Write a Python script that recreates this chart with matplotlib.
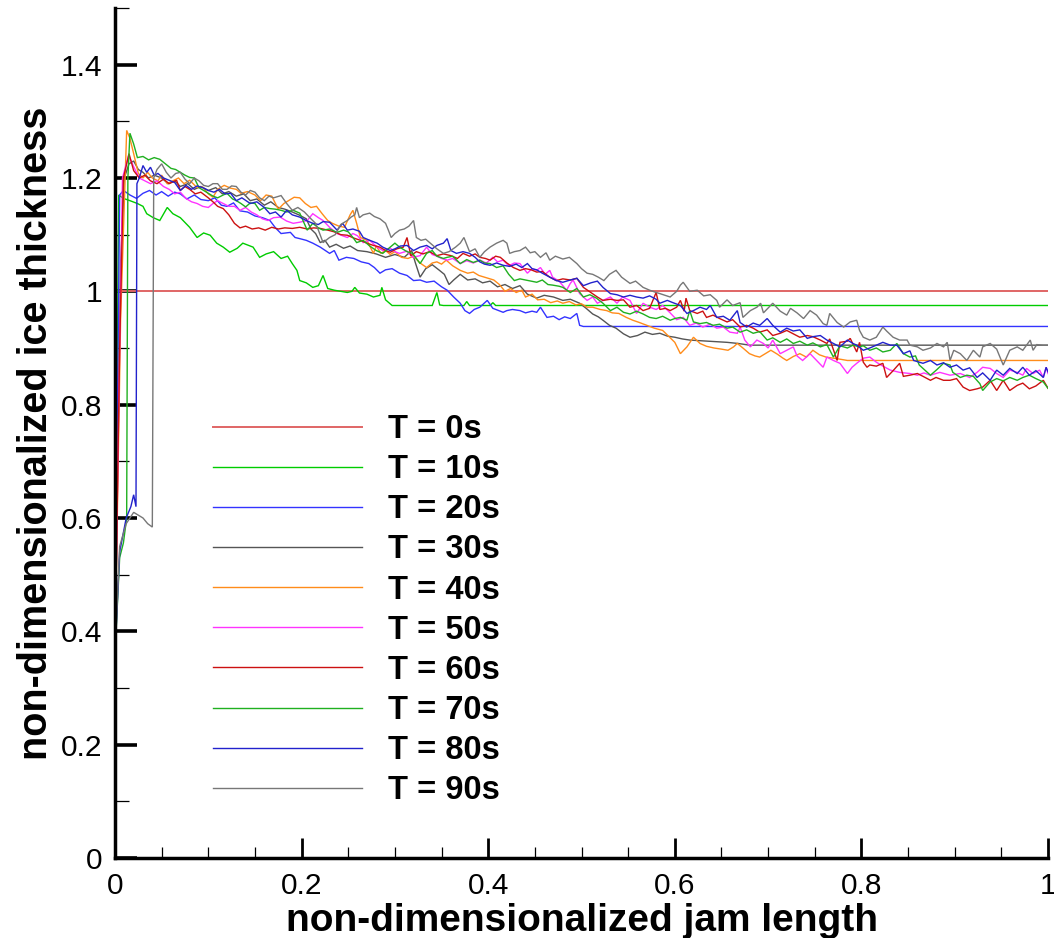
import matplotlib
matplotlib.use("Agg")
import matplotlib.pyplot as plt
from matplotlib.ticker import MultipleLocator, FuncFormatter

plt.rcParams['font.family'] = ['Liberation Sans', 'DejaVu Sans']

labels = ["T = 0s", "T = 10s", "T = 20s", "T = 30s", "T = 40s",
          "T = 50s", "T = 60s", "T = 70s", "T = 80s", "T = 90s"]
colors = ["#e06565", "#00cc00", "#3333ff", "#555555", "#ff8c1a",
          "#ff33ff", "#cc1111", "#20b020", "#2222cc", "#777777"]

T0 = [(0, 1.0), (1.0, 1.0)]

T10 = [(0, 0.36), (0.004, 1.17), (0.009, 1.164), (0.016, 1.16), (0.024, 1.155), (0.03, 1.15),
       (0.034, 1.137), (0.041, 1.13), (0.048, 1.125), (0.056, 1.148), (0.062, 1.137), (0.07, 1.13),
       (0.08, 1.113), (0.088, 1.095), (0.095, 1.103), (0.102, 1.099), (0.109, 1.085), (0.116, 1.078),
       (0.123, 1.069), (0.131, 1.076), (0.137, 1.085), (0.148, 1.078), (0.155, 1.06), (0.162, 1.066),
       (0.17, 1.07), (0.178, 1.058), (0.185, 1.062), (0.19, 1.049), (0.195, 1.037), (0.198, 1.019),
       (0.205, 1.015), (0.212, 1.007), (0.218, 1.01), (0.223, 1.028), (0.228, 1.005), (0.235, 1.002),
       (0.242, 1.0), (0.249, 0.998), (0.254, 1.0), (0.257, 1.007), (0.262, 0.997), (0.27, 0.995),
       (0.277, 0.99), (0.284, 0.993), (0.286, 1.007), (0.29, 0.985), (0.297, 0.975), (0.34, 0.975),
       (0.345, 0.998), (0.348, 0.976), (0.352, 0.975), (0.374, 0.975), (0.377, 0.982), (0.38, 0.975),
       (0.402, 0.975), (0.405, 0.98), (0.408, 0.975), (1.0, 0.975)]

T20 = [(0, 0.36), (0.005, 1.17), (0.009, 1.178), (0.016, 1.17), (0.023, 1.164), (0.03, 1.173),
       (0.037, 1.178), (0.044, 1.17), (0.05, 1.176), (0.057, 1.168), (0.064, 1.175), (0.07, 1.172),
       (0.077, 1.163), (0.085, 1.17), (0.092, 1.162), (0.1, 1.16), (0.107, 1.165), (0.114, 1.152),
       (0.12, 1.15), (0.127, 1.156), (0.134, 1.142), (0.142, 1.14), (0.15, 1.133), (0.158, 1.13),
       (0.166, 1.125), (0.172, 1.112), (0.178, 1.102), (0.188, 1.104), (0.193, 1.095), (0.198, 1.093),
       (0.205, 1.09), (0.212, 1.085), (0.22, 1.078), (0.23, 1.067), (0.235, 1.072), (0.24, 1.055),
       (0.248, 1.06), (0.256, 1.058), (0.264, 1.052), (0.272, 1.049), (0.278, 1.042), (0.284, 1.032),
       (0.29, 1.038), (0.297, 1.04), (0.305, 1.032), (0.313, 1.028), (0.32, 1.019), (0.327, 1.02),
       (0.334, 1.016), (0.342, 1.018), (0.35, 1.008), (0.356, 1.002), (0.363, 0.99), (0.37, 0.979),
       (0.375, 0.966), (0.38, 0.961), (0.385, 0.968), (0.391, 0.972), (0.399, 0.984), (0.405, 0.97),
       (0.416, 0.963), (0.42, 0.966), (0.426, 0.968), (0.434, 0.966), (0.44, 0.962), (0.447, 0.965),
       (0.452, 0.963), (0.456, 0.972), (0.463, 0.954), (0.47, 0.956), (0.476, 0.95), (0.482, 0.955),
       (0.488, 0.952), (0.495, 0.961), (0.498, 0.94), (0.502, 0.938), (1.0, 0.938)]

T30 = [(0, 0.36), (0.006, 1.05), (0.01, 1.2), (0.015, 1.225), (0.02, 1.23), (0.025, 1.215),
       (0.03, 1.21), (0.036, 1.2), (0.042, 1.205), (0.05, 1.2), (0.057, 1.19), (0.064, 1.195),
       (0.07, 1.185), (0.078, 1.19), (0.085, 1.18), (0.092, 1.185), (0.1, 1.178), (0.108, 1.183),
       (0.115, 1.172), (0.122, 1.176), (0.13, 1.168), (0.138, 1.172), (0.145, 1.16), (0.152, 1.163),
       (0.16, 1.152), (0.167, 1.158), (0.175, 1.148), (0.182, 1.145), (0.19, 1.14), (0.197, 1.135),
       (0.205, 1.128), (0.21, 1.11), (0.215, 1.102), (0.22, 1.086), (0.225, 1.09), (0.23, 1.078),
       (0.237, 1.083), (0.245, 1.076), (0.252, 1.08), (0.26, 1.072), (0.27, 1.07), (0.28, 1.066),
       (0.29, 1.06), (0.3, 1.065), (0.31, 1.06), (0.318, 1.072), (0.322, 1.05), (0.327, 1.025),
       (0.333, 1.04), (0.34, 1.047), (0.347, 1.038), (0.353, 1.03), (0.358, 1.012), (0.363, 1.02),
       (0.37, 1.03), (0.378, 1.02), (0.386, 1.022), (0.394, 1.015), (0.402, 1.018), (0.41, 1.008),
       (0.418, 1.012), (0.426, 1.005), (0.434, 1.01), (0.442, 0.995), (0.452, 0.988), (0.46, 0.993),
       (0.47, 0.99), (0.48, 0.984), (0.488, 0.986), (0.498, 0.979), (0.505, 0.97), (0.512, 0.96),
       (0.518, 0.955), (0.523, 0.949), (0.53, 0.94), (0.537, 0.935), (0.545, 0.925), (0.552, 0.919),
       (0.56, 0.922), (0.568, 0.928), (0.576, 0.924), (0.584, 0.926), (0.592, 0.921), (0.6, 0.919),
       (0.608, 0.916), (0.616, 0.914), (0.626, 0.913), (0.636, 0.912), (0.646, 0.911), (0.656, 0.91),
       (0.668, 0.908), (0.68, 0.905), (1.0, 0.905)]

T40 = [(0, 0.36), (0.006, 0.95), (0.0125, 1.284), (0.016, 1.27), (0.02, 1.243), (0.025, 1.208),
       (0.03, 1.2), (0.035, 1.21), (0.04, 1.2), (0.046, 1.195), (0.05, 1.205), (0.056, 1.19),
       (0.062, 1.195), (0.068, 1.2), (0.074, 1.19), (0.08, 1.196), (0.088, 1.183), (0.094, 1.184),
       (0.1, 1.172), (0.105, 1.166), (0.11, 1.18), (0.117, 1.187), (0.124, 1.182), (0.13, 1.18),
       (0.135, 1.173), (0.142, 1.176), (0.15, 1.17), (0.156, 1.16), (0.162, 1.17), (0.168, 1.168),
       (0.175, 1.145), (0.181, 1.155), (0.186, 1.16), (0.192, 1.166), (0.198, 1.165), (0.204, 1.155),
       (0.21, 1.148), (0.216, 1.15), (0.222, 1.137), (0.228, 1.125), (0.233, 1.12), (0.24, 1.115),
       (0.246, 1.113), (0.252, 1.135), (0.255, 1.143), (0.259, 1.12), (0.263, 1.095), (0.27, 1.09),
       (0.277, 1.067), (0.28, 1.08), (0.285, 1.067), (0.29, 1.072), (0.295, 1.065), (0.3, 1.07),
       (0.307, 1.06), (0.314, 1.058), (0.32, 1.062), (0.327, 1.05), (0.334, 1.042), (0.34, 1.05),
       (0.345, 1.052), (0.35, 1.048), (0.355, 1.055), (0.362, 1.045), (0.37, 1.037), (0.378, 1.032),
       (0.384, 1.034), (0.39, 1.028), (0.396, 1.025), (0.4, 1.023), (0.406, 1.02), (0.412, 1.012),
       (0.418, 1.0), (0.424, 1.005), (0.43, 0.998), (0.436, 1.002), (0.44, 0.99), (0.447, 0.995),
       (0.453, 0.985), (0.46, 0.986), (0.467, 0.98), (0.474, 0.983), (0.48, 0.979), (0.487, 0.982),
       (0.494, 0.976), (0.5, 0.978), (0.506, 0.972), (0.512, 0.972), (0.52, 0.968), (0.527, 0.966),
       (0.533, 0.962), (0.54, 0.961), (0.548, 0.954), (0.555, 0.949), (0.562, 0.945), (0.57, 0.94),
       (0.578, 0.935), (0.587, 0.931), (0.595, 0.918), (0.6, 0.91), (0.606, 0.89), (0.613, 0.902),
       (0.62, 0.919), (0.627, 0.908), (0.634, 0.903), (0.642, 0.9), (0.65, 0.898), (0.657, 0.896),
       (0.663, 0.902), (0.667, 0.908), (0.673, 0.9), (0.68, 0.89), (0.686, 0.886), (0.691, 0.884),
       (0.697, 0.89), (0.703, 0.896), (0.71, 0.889), (0.716, 0.882), (0.72, 0.878), (0.727, 0.885),
       (0.734, 0.89), (0.741, 0.884), (0.748, 0.896), (0.755, 0.888), (0.762, 0.884), (0.77, 0.882),
       (0.778, 0.88), (0.785, 0.878), (1.0, 0.878)]

T50 = [(0, 0.36), (0.004, 0.8), (0.008, 1.2), (0.0146, 1.24), (0.02, 1.22), (0.026, 1.2),
       (0.032, 1.195), (0.038, 1.19), (0.045, 1.195), (0.052, 1.185), (0.058, 1.18), (0.064, 1.172),
       (0.07, 1.175), (0.076, 1.164), (0.082, 1.158), (0.088, 1.155), (0.094, 1.15), (0.1, 1.148),
       (0.105, 1.155), (0.11, 1.16), (0.116, 1.155), (0.122, 1.15), (0.128, 1.15), (0.134, 1.143),
       (0.14, 1.148), (0.146, 1.14), (0.152, 1.135), (0.158, 1.128), (0.164, 1.125), (0.17, 1.13),
       (0.177, 1.131), (0.184, 1.124), (0.191, 1.12), (0.198, 1.122), (0.206, 1.125), (0.212, 1.137),
       (0.218, 1.13), (0.223, 1.125), (0.23, 1.113), (0.238, 1.102), (0.244, 1.098), (0.249, 1.095),
       (0.255, 1.102), (0.26, 1.098), (0.266, 1.086), (0.273, 1.09), (0.281, 1.078), (0.287, 1.072),
       (0.295, 1.076), (0.3, 1.07), (0.305, 1.067), (0.313, 1.071), (0.319, 1.06), (0.327, 1.063),
       (0.334, 1.078), (0.34, 1.065), (0.345, 1.062), (0.35, 1.058), (0.356, 1.055), (0.362, 1.058),
       (0.37, 1.049), (0.377, 1.054), (0.384, 1.05), (0.391, 1.055), (0.398, 1.05), (0.405, 1.06),
       (0.41, 1.052), (0.416, 1.055), (0.422, 1.045), (0.428, 1.05), (0.434, 1.049), (0.442, 1.032),
       (0.447, 1.04), (0.452, 1.037), (0.456, 1.042), (0.461, 1.03), (0.466, 1.037), (0.469, 1.025),
       (0.476, 1.018), (0.484, 1.002), (0.488, 1.014), (0.491, 1.02), (0.498, 0.996), (0.506, 0.984),
       (0.512, 0.99), (0.517, 0.979), (0.523, 0.984), (0.531, 0.99), (0.538, 0.979), (0.544, 0.99),
       (0.552, 0.984), (0.559, 0.961), (0.566, 0.979), (0.573, 0.972), (0.58, 0.968), (0.587, 0.975),
       (0.595, 0.962), (0.602, 0.95), (0.609, 0.954), (0.616, 0.94), (0.623, 0.944), (0.63, 0.937),
       (0.638, 0.942), (0.645, 0.935), (0.652, 0.937), (0.659, 0.928), (0.667, 0.926), (0.67, 0.937),
       (0.675, 0.914), (0.681, 0.902), (0.688, 0.914), (0.695, 0.908), (0.7, 0.9), (0.705, 0.914),
       (0.713, 0.89), (0.72, 0.896), (0.727, 0.902), (0.731, 0.886), (0.737, 0.878), (0.745, 0.89),
       (0.752, 0.878), (0.759, 0.866), (0.763, 0.884), (0.77, 0.878), (0.777, 0.873), (0.785, 0.855),
       (0.79, 0.866), (0.795, 0.873), (0.802, 0.882), (0.809, 0.884), (0.816, 0.875), (0.823, 0.868),
       (0.831, 0.861), (0.841, 0.857), (0.852, 0.855), (0.86, 0.852), (0.867, 0.856), (0.874, 0.852),
       (0.884, 0.857), (0.895, 0.852), (0.906, 0.855), (0.916, 0.848), (0.924, 0.857), (0.93, 0.866),
       (0.938, 0.864), (0.945, 0.855), (0.952, 0.848), (0.959, 0.861), (0.967, 0.857), (0.973, 0.852),
       (0.977, 0.864), (0.984, 0.855), (0.991, 0.861), (0.995, 0.848), (0.998, 0.866), (1.0, 0.855)]

T60 = [(0, 0.36), (0.005, 0.9), (0.009, 1.2), (0.015, 1.243), (0.02, 1.213), (0.026, 1.2),
       (0.032, 1.205), (0.038, 1.195), (0.045, 1.19), (0.052, 1.198), (0.058, 1.19), (0.066, 1.196),
       (0.07, 1.178), (0.075, 1.185), (0.08, 1.18), (0.086, 1.172), (0.092, 1.175), (0.1, 1.165),
       (0.105, 1.158), (0.11, 1.15), (0.116, 1.146), (0.122, 1.135), (0.128, 1.12), (0.134, 1.112),
       (0.14, 1.115), (0.147, 1.11), (0.154, 1.112), (0.161, 1.108), (0.168, 1.113), (0.175, 1.11),
       (0.182, 1.112), (0.19, 1.111), (0.198, 1.113), (0.206, 1.11), (0.213, 1.112), (0.22, 1.111),
       (0.228, 1.108), (0.235, 1.105), (0.242, 1.1), (0.249, 1.099), (0.256, 1.094), (0.263, 1.09),
       (0.27, 1.085), (0.277, 1.081), (0.284, 1.078), (0.29, 1.072), (0.295, 1.069), (0.302, 1.075),
       (0.309, 1.078), (0.313, 1.095), (0.317, 1.063), (0.323, 1.07), (0.33, 1.066), (0.337, 1.07),
       (0.345, 1.063), (0.352, 1.066), (0.36, 1.063), (0.367, 1.058), (0.373, 1.067), (0.38, 1.062),
       (0.386, 1.066), (0.391, 1.06), (0.397, 1.058), (0.402, 1.055), (0.408, 1.062), (0.413, 1.06),
       (0.42, 1.05), (0.427, 1.042), (0.434, 1.037), (0.44, 1.04), (0.446, 1.038), (0.452, 1.034),
       (0.458, 1.035), (0.466, 1.025), (0.473, 1.019), (0.48, 1.022), (0.488, 1.02), (0.495, 1.023),
       (0.502, 1.007), (0.51, 0.998), (0.517, 0.99), (0.523, 0.984), (0.531, 0.986), (0.538, 0.984),
       (0.545, 0.985), (0.552, 0.972), (0.559, 0.975), (0.566, 0.966), (0.573, 0.97), (0.58, 0.998),
       (0.584, 0.968), (0.59, 0.97), (0.595, 0.966), (0.602, 0.972), (0.606, 0.984), (0.61, 0.965),
       (0.612, 0.988), (0.616, 0.966), (0.624, 0.961), (0.63, 0.965), (0.634, 0.954), (0.641, 0.958),
       (0.648, 0.952), (0.656, 0.946), (0.662, 0.95), (0.67, 0.937), (0.677, 0.94), (0.684, 0.935),
       (0.691, 0.928), (0.699, 0.932), (0.705, 0.922), (0.713, 0.926), (0.72, 0.931), (0.727, 0.925),
       (0.734, 0.919), (0.742, 0.922), (0.748, 0.92), (0.756, 0.914), (0.763, 0.908), (0.766, 0.916),
       (0.774, 0.878), (0.777, 0.91), (0.785, 0.912), (0.788, 0.917), (0.795, 0.893), (0.798, 0.91),
       (0.802, 0.875), (0.806, 0.866), (0.809, 0.87), (0.816, 0.868), (0.823, 0.873), (0.827, 0.848),
       (0.834, 0.86), (0.841, 0.873), (0.845, 0.85), (0.852, 0.852), (0.86, 0.855), (0.866, 0.85),
       (0.874, 0.843), (0.88, 0.848), (0.888, 0.843), (0.895, 0.843), (0.902, 0.846), (0.909, 0.831),
       (0.916, 0.825), (0.924, 0.828), (0.93, 0.831), (0.938, 0.843), (0.945, 0.825), (0.952, 0.843),
       (0.959, 0.825), (0.967, 0.834), (0.973, 0.838), (0.98, 0.828), (0.987, 0.833), (0.995, 0.843),
       (1.0, 0.829)]

T70 = [(0, 0.36), (0.005, 0.53), (0.009, 0.556), (0.0125, 0.6), (0.0138, 1.2), (0.016, 1.279),
       (0.02, 1.26), (0.024, 1.236), (0.03, 1.238), (0.036, 1.232), (0.042, 1.236), (0.048, 1.233),
       (0.054, 1.225), (0.06, 1.217), (0.065, 1.215), (0.07, 1.21), (0.075, 1.205), (0.08, 1.201),
       (0.085, 1.2), (0.09, 1.183), (0.095, 1.178), (0.1, 1.173), (0.105, 1.168), (0.11, 1.165),
       (0.116, 1.17), (0.12, 1.173), (0.126, 1.163), (0.13, 1.16), (0.135, 1.155), (0.14, 1.149),
       (0.145, 1.156), (0.15, 1.155), (0.155, 1.143), (0.16, 1.148), (0.166, 1.146), (0.172, 1.145),
       (0.178, 1.143), (0.184, 1.14), (0.191, 1.143), (0.198, 1.138), (0.206, 1.108), (0.212, 1.12),
       (0.218, 1.112), (0.223, 1.108), (0.23, 1.11), (0.238, 1.104), (0.245, 1.108), (0.25, 1.105),
       (0.255, 1.095), (0.259, 1.086), (0.266, 1.09), (0.273, 1.08), (0.28, 1.072), (0.287, 1.067),
       (0.295, 1.078), (0.3, 1.085), (0.305, 1.078), (0.313, 1.07), (0.319, 1.067), (0.327, 1.049),
       (0.334, 1.067), (0.34, 1.072), (0.345, 1.062), (0.352, 1.058), (0.356, 1.06), (0.362, 1.062),
       (0.37, 1.049), (0.377, 1.056), (0.384, 1.051), (0.391, 1.055), (0.396, 1.05), (0.402, 1.049),
       (0.409, 1.042), (0.416, 1.045), (0.422, 1.03), (0.428, 1.019), (0.434, 1.022), (0.44, 1.02),
       (0.446, 1.018), (0.452, 1.016), (0.458, 1.02), (0.464, 1.012), (0.469, 1.011), (0.476, 1.009),
       (0.48, 1.007), (0.488, 0.998), (0.495, 1.005), (0.502, 0.99), (0.509, 0.994), (0.516, 0.988),
       (0.523, 0.979), (0.531, 0.966), (0.538, 0.972), (0.545, 0.963), (0.552, 0.96), (0.559, 0.965),
       (0.566, 0.96), (0.573, 0.954), (0.58, 0.952), (0.587, 0.956), (0.595, 0.949), (0.6, 0.952),
       (0.606, 0.954), (0.613, 0.949), (0.616, 0.966), (0.62, 0.946), (0.627, 0.943), (0.634, 0.945),
       (0.641, 0.94), (0.648, 0.942), (0.656, 0.935), (0.662, 0.937), (0.67, 0.928), (0.677, 0.932),
       (0.684, 0.926), (0.691, 0.929), (0.699, 0.914), (0.705, 0.918), (0.713, 0.91), (0.72, 0.916),
       (0.727, 0.908), (0.734, 0.912), (0.742, 0.905), (0.748, 0.909), (0.756, 0.902), (0.763, 0.906),
       (0.77, 0.884), (0.777, 0.904), (0.785, 0.9), (0.791, 0.905), (0.798, 0.902), (0.802, 0.904),
       (0.809, 0.896), (0.816, 0.9), (0.823, 0.893), (0.831, 0.896), (0.838, 0.908), (0.845, 0.89),
       (0.852, 0.884), (0.858, 0.886), (0.862, 0.87), (0.868, 0.861), (0.874, 0.852), (0.881, 0.862),
       (0.888, 0.873), (0.895, 0.87), (0.898, 0.857), (0.906, 0.848), (0.913, 0.852), (0.92, 0.85),
       (0.927, 0.837), (0.93, 0.825), (0.938, 0.84), (0.945, 0.846), (0.952, 0.842), (0.959, 0.848),
       (0.967, 0.843), (0.973, 0.848), (0.98, 0.852), (0.987, 0.846), (0.995, 0.84), (1.0, 0.829)]

T80 = [(0, 0.36), (0.005, 0.54), (0.012, 0.6), (0.017, 0.62), (0.02, 0.641), (0.0225, 0.62),
       (0.0235, 1.19), (0.026, 1.2), (0.03, 1.222), (0.034, 1.21), (0.038, 1.219), (0.042, 1.205),
       (0.046, 1.208), (0.052, 1.2), (0.058, 1.196), (0.064, 1.192), (0.07, 1.178), (0.076, 1.187),
       (0.082, 1.18), (0.088, 1.186), (0.094, 1.183), (0.1, 1.178), (0.106, 1.175), (0.112, 1.18),
       (0.118, 1.172), (0.124, 1.173), (0.13, 1.16), (0.136, 1.165), (0.145, 1.155), (0.152, 1.158),
       (0.16, 1.148), (0.166, 1.137), (0.172, 1.14), (0.178, 1.131), (0.184, 1.143), (0.19, 1.135),
       (0.198, 1.131), (0.205, 1.125), (0.212, 1.12), (0.218, 1.118), (0.223, 1.123), (0.23, 1.122),
       (0.238, 1.108), (0.244, 1.12), (0.249, 1.108), (0.255, 1.11), (0.262, 1.106), (0.266, 1.095),
       (0.273, 1.09), (0.281, 1.085), (0.287, 1.078), (0.295, 1.072), (0.3, 1.075), (0.306, 1.08),
       (0.313, 1.081), (0.32, 1.072), (0.327, 1.078), (0.334, 1.081), (0.34, 1.075), (0.345, 1.081),
       (0.352, 1.085), (0.356, 1.093), (0.36, 1.072), (0.366, 1.067), (0.373, 1.07), (0.38, 1.067),
       (0.386, 1.06), (0.391, 1.052), (0.396, 1.048), (0.402, 1.046), (0.409, 1.05), (0.416, 1.046),
       (0.423, 1.044), (0.43, 1.048), (0.436, 1.042), (0.442, 1.049), (0.447, 1.04), (0.452, 1.038),
       (0.458, 1.032), (0.466, 1.025), (0.473, 1.019), (0.48, 1.016), (0.488, 1.02), (0.495, 1.023),
       (0.502, 1.01), (0.51, 1.015), (0.517, 1.018), (0.523, 1.007), (0.531, 0.996), (0.538, 0.994),
       (0.545, 0.99), (0.552, 0.993), (0.559, 0.99), (0.566, 0.988), (0.573, 0.992), (0.58, 0.986),
       (0.584, 0.979), (0.592, 0.984), (0.598, 0.98), (0.606, 0.975), (0.613, 0.961), (0.62, 0.966),
       (0.627, 0.972), (0.634, 0.968), (0.638, 0.975), (0.645, 0.954), (0.652, 0.956), (0.659, 0.949),
       (0.667, 0.966), (0.67, 0.945), (0.677, 0.937), (0.684, 0.944), (0.691, 0.94), (0.699, 0.952),
       (0.705, 0.94), (0.713, 0.928), (0.72, 0.935), (0.727, 0.93), (0.734, 0.932), (0.742, 0.917),
       (0.748, 0.92), (0.756, 0.922), (0.763, 0.914), (0.77, 0.908), (0.777, 0.902), (0.785, 0.914),
       (0.791, 0.908), (0.795, 0.905), (0.802, 0.896), (0.809, 0.9), (0.816, 0.905), (0.823, 0.91),
       (0.831, 0.905), (0.838, 0.905), (0.845, 0.89), (0.852, 0.895), (0.856, 0.878), (0.866, 0.873),
       (0.874, 0.878), (0.881, 0.87), (0.888, 0.874), (0.895, 0.866), (0.902, 0.87), (0.909, 0.861),
       (0.916, 0.865), (0.924, 0.848), (0.93, 0.856), (0.938, 0.843), (0.945, 0.861), (0.952, 0.852),
       (0.959, 0.864), (0.967, 0.855), (0.973, 0.866), (0.98, 0.852), (0.987, 0.86), (0.995, 0.848),
       (0.998, 0.866), (1.0, 0.858)]

T90 = [(0, 0.36), (0.005, 0.55), (0.012, 0.59), (0.016, 0.6), (0.02, 0.61), (0.025, 0.605),
       (0.03, 0.6), (0.035, 0.59), (0.04, 0.584), (0.0415, 1.2), (0.045, 1.215), (0.05, 1.225),
       (0.055, 1.21), (0.06, 1.2), (0.065, 1.208), (0.07, 1.21), (0.075, 1.198), (0.08, 1.19),
       (0.085, 1.2), (0.09, 1.195), (0.095, 1.187), (0.1, 1.185), (0.105, 1.19), (0.11, 1.19),
       (0.115, 1.18), (0.12, 1.18), (0.125, 1.186), (0.13, 1.185), (0.135, 1.175), (0.14, 1.17),
       (0.145, 1.178), (0.15, 1.175), (0.155, 1.165), (0.16, 1.16), (0.165, 1.168), (0.17, 1.165),
       (0.178, 1.169), (0.184, 1.155), (0.19, 1.143), (0.196, 1.148), (0.203, 1.14), (0.21, 1.128),
       (0.215, 1.12), (0.218, 1.108), (0.223, 1.086), (0.23, 1.095), (0.236, 1.1), (0.242, 1.118),
       (0.249, 1.125), (0.253, 1.131), (0.257, 1.135), (0.259, 1.148), (0.262, 1.13), (0.266, 1.135),
       (0.273, 1.138), (0.278, 1.132), (0.284, 1.128), (0.29, 1.12), (0.293, 1.108), (0.296, 1.095),
       (0.3, 1.102), (0.305, 1.108), (0.31, 1.11), (0.315, 1.115), (0.32, 1.125), (0.323, 1.095),
       (0.328, 1.09), (0.333, 1.092), (0.338, 1.085), (0.345, 1.075), (0.352, 1.067), (0.358, 1.07),
       (0.365, 1.078), (0.37, 1.085), (0.374, 1.095), (0.38, 1.07), (0.386, 1.075), (0.391, 1.06),
       (0.396, 1.07), (0.402, 1.078), (0.409, 1.085), (0.416, 1.09), (0.42, 1.085), (0.423, 1.067),
       (0.428, 1.07), (0.434, 1.072), (0.44, 1.078), (0.445, 1.068), (0.45, 1.07), (0.456, 1.06),
       (0.462, 1.068), (0.466, 1.055), (0.472, 1.062), (0.48, 1.057), (0.487, 1.06), (0.495, 1.049),
       (0.5, 1.04), (0.506, 1.032), (0.512, 1.03), (0.518, 1.025), (0.524, 1.019), (0.53, 1.03),
       (0.537, 1.037), (0.543, 1.025), (0.552, 1.014), (0.558, 1.018), (0.566, 1.007), (0.573, 1.002),
       (0.58, 0.998), (0.584, 0.996), (0.595, 0.99), (0.602, 1.0), (0.606, 1.011), (0.609, 1.016),
       (0.616, 1.0), (0.624, 1.002), (0.631, 0.992), (0.638, 0.994), (0.645, 0.984), (0.648, 0.972),
       (0.656, 0.985), (0.662, 0.975), (0.67, 0.98), (0.673, 0.954), (0.681, 0.966), (0.688, 0.972),
       (0.692, 0.979), (0.695, 0.962), (0.705, 0.979), (0.713, 0.965), (0.72, 0.958), (0.724, 0.97),
       (0.731, 0.962), (0.738, 0.952), (0.745, 0.966), (0.752, 0.958), (0.759, 0.943), (0.763, 0.94),
       (0.766, 0.961), (0.774, 0.945), (0.781, 0.937), (0.788, 0.946), (0.795, 0.949), (0.798, 0.931),
       (0.802, 0.919), (0.809, 0.914), (0.816, 0.919), (0.823, 0.937), (0.827, 0.93), (0.834, 0.919),
       (0.841, 0.914), (0.849, 0.914), (0.852, 0.905), (0.86, 0.902), (0.866, 0.896), (0.874, 0.9),
       (0.881, 0.908), (0.888, 0.902), (0.892, 0.91), (0.895, 0.878), (0.899, 0.896), (0.906, 0.89),
       (0.913, 0.878), (0.92, 0.896), (0.927, 0.884), (0.93, 0.902), (0.938, 0.908), (0.945, 0.898),
       (0.952, 0.87), (0.959, 0.896), (0.967, 0.902), (0.973, 0.896), (0.981, 0.914), (0.984, 0.896),
       (0.988, 0.906), (0.995, 0.905), (1.0, 0.905)]

series = [T0, T10, T20, T30, T40, T50, T60, T70, T80, T90]
widths = [1.4, 1.0, 1.0, 1.0, 1.0, 1.0, 1.0, 1.0, 1.0, 1.0]

fig = plt.figure(figsize=(10.54, 9.38), dpi=100)
ax = fig.add_axes([115 / 1054, 80 / 938, 933 / 1054, 850 / 938])

for pts, lab, col, lw in zip(series, labels, colors, widths):
    xs = [p[0] for p in pts]
    ys = [p[1] for p in pts]
    ax.plot(xs, ys, color=col, lw=lw, label=lab, solid_joinstyle='miter')

ax.set_xlim(0, 1)
ax.set_ylim(0, 1.5)

for s in ['top', 'right']:
    ax.spines[s].set_visible(False)
for s in ['left', 'bottom']:
    ax.spines[s].set_linewidth(2.5)

fmt = FuncFormatter(lambda v, p: ('%g' % round(v, 3)))
ax.xaxis.set_major_locator(MultipleLocator(0.2))
ax.xaxis.set_minor_locator(MultipleLocator(0.05))
ax.yaxis.set_major_locator(MultipleLocator(0.2))
ax.yaxis.set_minor_locator(MultipleLocator(0.1))
ax.xaxis.set_major_formatter(fmt)
ax.yaxis.set_major_formatter(fmt)

ax.tick_params(axis='y', which='major', direction='in', length=16, width=2.6,
               labelsize=21.5, pad=9)
ax.tick_params(axis='y', which='minor', direction='in', length=10, width=0.9)
ax.tick_params(axis='x', which='major', direction='in', length=14.5, width=2.0,
               labelsize=21.5, pad=10)
ax.tick_params(axis='x', which='minor', direction='in', length=8, width=0.9)

ax.set_xlabel("non-dimensionalized jam length", fontsize=28, fontweight='bold', labelpad=2)
ax.set_ylabel("non-dimensionalized ice thickness", fontsize=28.5, fontweight='bold', labelpad=4)

leg = ax.legend(loc='upper left', bbox_to_anchor=(98 / 933, (858 - 414) / 850),
                frameon=False, borderpad=0, borderaxespad=0,
                handlelength=4.55, handletextpad=0.8, labelspacing=0.28,
                prop={'size': 23.5, 'weight': 'bold'})

fig.savefig("out.png", dpi=100)
